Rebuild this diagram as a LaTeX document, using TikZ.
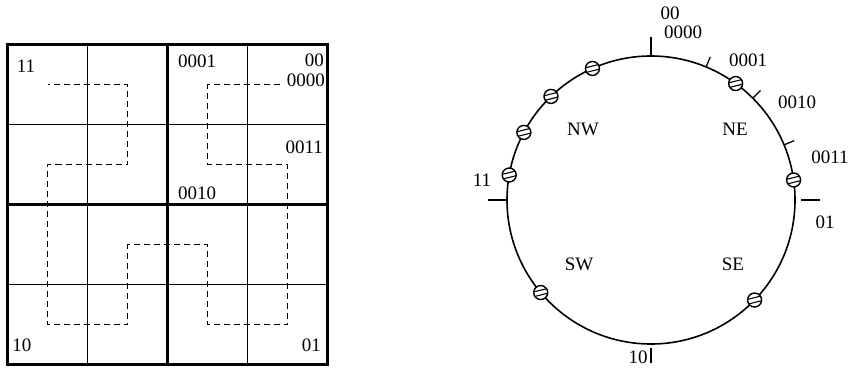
\documentclass[tikz,border=0pt]{standalone}
\usepackage{fontspec}
\setmainfont{Liberation Serif}

\begin{document}
\begin{tikzpicture}[x = 1pt, y = -1pt,
    every node/.style = {font = \fontsize{19}{21}\selectfont, inner sep = 0pt},
    thingrid/.style = {line width = 1.4pt},
    thickgrid/.style = {line width = 3pt},
    curve/.style = {line width = 1.6pt, dash pattern = on 6pt off 4pt},
    ring/.style = {line width = 1.6pt},
    major/.style = {line width = 2.6pt},
    minor/.style = {line width = 1.3pt},
    datum/.style = {circle, draw, line width = 1.4pt, fill = white, minimum size = 14pt,
        path picture = {\foreach \d in {-2.4,2.4}
            \draw[line width = 1.1pt] ([shift = {(-8pt,\d pt-2pt)}]path picture bounding box.center) -- ++(16pt,4pt);}}]
    \useasboundingbox (0,0) rectangle (851,370);

    % grid
    \foreach \i in {1,3} {
        \draw[thingrid] (7.5+80*\i,44.5) -- (7.5+80*\i,364.5);
        \draw[thingrid] (7.5,44.5+80*\i) -- (327.5,44.5+80*\i);
    }
    \draw[thickgrid] (7.5,44.5) rectangle (327.5,364.5)
        (167.5,44.5) -- (167.5,364.5) (7.5,204.5) -- (327.5,204.5);
    \foreach \i in {0,...,3}
        \foreach \j in {0,...,3}
            \coordinate (c\i\j) at (47.5+80*\i,84.5+80*\j);
    \draw[curve] ([xshift = -8pt]c30) -- (c20) -- (c21) -- (c31) -- (c33) -- (c23) -- (c22)
        -- (c12) -- (c13) -- (c03) -- (c01) -- (c11) -- (c10) -- (c00);
    \node (g11) at (26,66) {11};
    \node (g0001) at (197,61) {0001};
    \node[anchor = east] (g00) at (324,60) {00};
    \node[anchor = east] (g0000) at (325,80) {0000};
    \node[anchor = east] (g0011) at (323,147) {0011};
    \node (g0010) at (197,193) {0010};
    \node (g10) at (22,345) {10};
    \node[anchor = east] (g01) at (321,345) {01};

    % ring
    \coordinate (O) at (651,200);
    \draw[ring] (O) circle[radius = 144pt];
    \foreach \a/\r/\s in {90/144/163, 180/144/163, 0/150/169, 270/148/163}
        \draw[major] ([shift = {(\a:\r pt)}]O) -- ([shift = {(\a:\s pt)}]O);
    \foreach \a in {67.5,45,22.5}
        \draw[minor] ([shift = {(\a:144pt)}]O) -- ([shift = {(\a:155pt)}]O);
    \foreach \a [count = \k] in {114,134,152,170,54,8,220,316}
        \node[datum] (p\k) at ([shift = {(\a:144pt)}]O) {};
    \node (r00) at (670,13) {00};
    \node (r0000) at (683,32) {0000};
    \node (r0001) at (748,60) {0001};
    \node (r0010) at (797,102) {0010};
    \node (r0011) at (830,157) {0011};
    \node (r01) at (825,222) {01};
    \node (r11) at (482,180) {11};
    \node (r10) at (638,357) {10};
    \node (nw) at (583,129) {NW};
    \node (ne) at (735,129) {NE};
    \node (sw) at (579,264) {SW};
    \node (se) at (733,264) {SE};
\end{tikzpicture}
\end{document}
